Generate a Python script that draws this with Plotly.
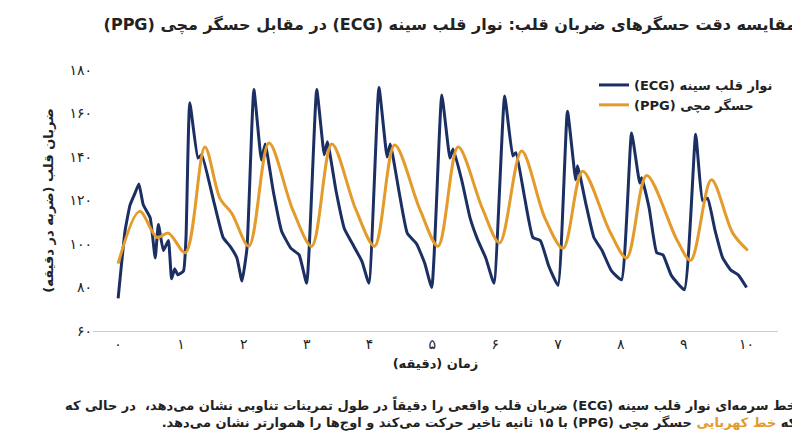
import plotly.graph_objects as go

# ECG (chest strap) readings
ecg_t = [0.0, 0.11, 0.19, 0.27, 0.33, 0.4, 0.51, 0.59, 0.64, 0.72, 0.8, 0.85, 0.9, 0.95, 1.04, 1.08,
         1.14, 1.27, 1.33, 1.51, 1.67, 1.78, 1.89, 1.97, 2.05,
         2.16, 2.28, 2.34, 2.47, 2.6, 2.75, 2.88, 3.0,
         3.16, 3.28, 3.33, 3.47, 3.6, 3.75, 3.88, 3.99,
         4.15, 4.28, 4.33, 4.47, 4.6, 4.75, 4.88, 4.99,
         5.15, 5.28, 5.33, 5.47, 5.6, 5.72, 5.85, 5.98,
         6.15, 6.28, 6.33, 6.47, 6.6, 6.72, 6.85, 7.0,
         7.15, 7.28, 7.31, 7.45, 7.57, 7.7, 7.85, 8.01,
         8.17, 8.3, 8.33, 8.45, 8.57, 8.67, 8.8, 9.01,
         9.19, 9.3, 9.38, 9.5, 9.62, 9.75, 9.87, 10.0]
ecg_v = [75, 106, 118, 123.5, 127.6, 118, 112, 93.6, 109, 97, 101.6, 84, 88.6, 85.8, 87.6, 103,
         165, 139.5, 141, 121, 103, 99, 93.6, 83, 98,
         171, 138.6, 146, 124, 106, 98, 95, 82,
         171, 141, 147, 124, 107, 99, 92, 82,
         172, 140, 146, 124, 105, 100, 91, 80,
         168.5, 139.5, 143.7, 129, 112, 102, 93.6, 82,
         168, 140.5, 142, 121, 103, 101.5, 90, 81,
         161, 129.5, 136, 117.5, 103, 97, 87.6, 83.5,
         151, 128, 130.5, 116.5, 96, 95, 85.7, 79,
         150.5, 120, 121, 106, 93.6, 88, 85.7, 80]

# PPG (wrist tracker) readings
ppg_t = [0.0, 0.34, 0.62, 0.8, 1.07, 1.38, 1.62, 1.81, 2.08, 2.4, 2.78, 3.08, 3.4, 3.78, 4.08,
         4.4, 4.8, 5.09, 5.41, 5.8, 6.07, 6.42, 6.79, 7.08, 7.39, 7.82, 8.09, 8.41, 8.89,
         9.11, 9.44, 9.78, 10.02]
ppg_v = [91, 115, 103, 105, 96, 144.6, 121, 114, 99, 146.4, 115.6, 99, 146, 116, 99,
         145.5, 116, 99, 144.6, 116, 100.5, 142.8, 112, 98, 133.5, 106, 93.6, 131.5, 102,
         92.5, 129.5, 105, 97]

x_ticks = list(range(11))
x_labels = ["۰", "۱", "۲", "۳", "۴", "۵", "۶", "۷", "۸", "۹", "۱۰"]
y_ticks = [60, 80, 100, 120, 140, 160, 180]
y_labels = ["۶۰", "۸۰", "۱۰۰", "۱۲۰", "۱۴۰", "۱۶۰", "۱۸۰"]

navy = "#1b2f63"
amber = "#e39b2b"
font = "DejaVu Sans"


def rtl(s):
    # force right-to-left embedding so mixed Persian/Latin text orders correctly
    return "\u202b" + s + "\u202c"


fig = go.Figure()
fig.add_trace(go.Scatter(x=ecg_t, y=ecg_v, mode="lines", name="<b>" + rtl("نوار قلب سینه (ECG)") + "</b>",
                         line=dict(color=navy, width=3, shape="spline", smoothing=0.4)))
fig.add_trace(go.Scatter(x=ppg_t, y=ppg_v, mode="lines", name="<b>" + rtl("حسگر مچی (PPG)") + "</b>",
                         line=dict(color=amber, width=3, shape="spline", smoothing=0.9)))

fig.update_layout(
    width=800, height=447,
    plot_bgcolor="white", paper_bgcolor="white",
    margin=dict(l=85, r=30, t=62, b=124),
    font=dict(family=font, color="#222", size=13),
    title=dict(text="<b>" + rtl("مقایسه دقت حسگرهای ضربان قلب: نوار قلب سینه (ECG) در مقابل حسگر مچی (PPG)") + "</b>",
               x=0.985, xanchor="right", y=0.975, yanchor="top", font=dict(size=16, color="#222")),
    legend=dict(x=1.0, xanchor="right", y=1.0, yanchor="top", bgcolor="rgba(0,0,0,0)",
                font=dict(size=13), traceorder="normal"),
    xaxis=dict(range=[-0.4, 10.5], tickvals=x_ticks, ticktext=x_labels, showgrid=False,
               zeroline=False, showline=True, linecolor="#ccc", ticks="",
               tickfont=dict(size=14, color="#222"),
               title=dict(text="<b>" + rtl("زمان (دقیقه)") + "</b>", font=dict(size=13), standoff=8)),
    yaxis=dict(range=[60, 180], tickvals=y_ticks, ticktext=y_labels, showgrid=False,
               zeroline=False, showline=False, ticks="",
               tickfont=dict(size=14, color="#222"),
               title=dict(text="<b>" + rtl("ضربان قلب (ضربه در دقیقه)") + "</b>", font=dict(size=13), standoff=12)),
)

line1 = rtl("خط سرمه‌ای نوار قلب سینه (ECG) ضربان قلب واقعی را دقیقاً در طول تمرینات تناوبی نشان می‌دهد،  در حالی که")
line2 = (rtl("که ") + "<span style='color:" + amber + "'>" + rtl("خط کهربایی") + "</span>"
         + rtl(" حسگر مچی (PPG) با ۱۵ ثانیه تاخیر حرکت می‌کند و اوج‌ها را هموارتر نشان می‌دهد."))
fig.add_annotation(
    xref="paper", yref="paper", x=1.03, y=-0.24, xanchor="right", yanchor="top", align="right",
    showarrow=False, font=dict(size=13, color="#222"),
    text="<b>" + line1 + "</b><br><b>" + line2 + "</b>",
)

fig.write_html("out.html")
